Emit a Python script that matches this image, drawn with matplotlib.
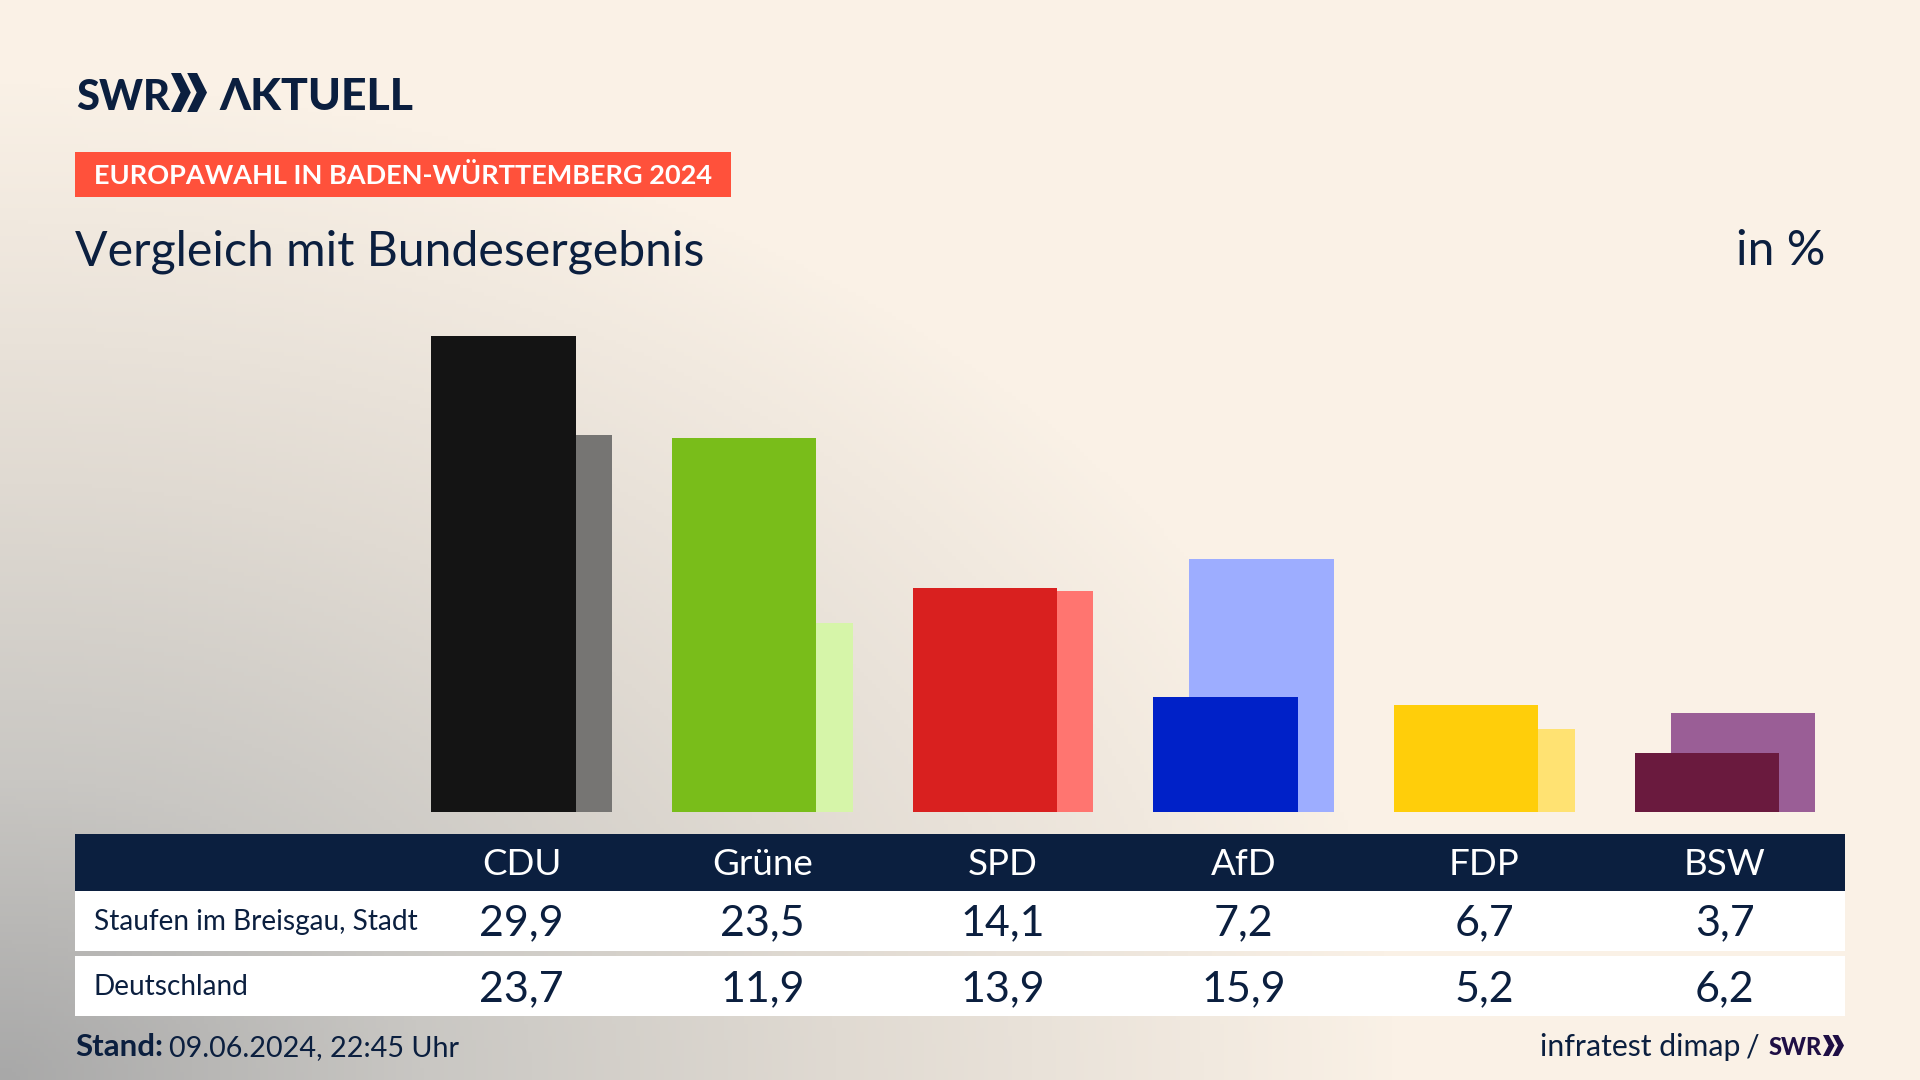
# SWR Europawahl: Vergleich Staufen / Bund
import matplotlib
matplotlib.use("Agg")
import matplotlib.pyplot as plt
from matplotlib.colors import LinearSegmentedColormap
from matplotlib.patches import Polygon, Rectangle
import numpy as np

parteien = ["CDU", "Grüne", "SPD", "AfD", "FDP", "BSW"]
staufen = [29.9, 23.5, 14.1, 7.2, 6.7, 3.7]
deutschland = [23.7, 11.9, 13.9, 15.9, 5.2, 6.2]
farben_vorn = ["#141414", "#79BD1A", "#D9201F", "#0021C8", "#FFCE0A", "#6A1A3E"]
farben_hinten = ["#767573", "#D6F5A9", "#FF7570", "#9DADFF", "#FFE272", "#9A5E96"]

NAVY = "#0B1F3F"
W, H = 1920, 1080
plt.rcParams["font.family"] = ["Lato", "DejaVu Sans"]

fig = plt.figure(figsize=(W / 100, H / 100), dpi=100)

# Hintergrund + alles Nicht-Daten in Pixelkoordinaten
bg = fig.add_axes([0, 0, 1, 1])
bg.set_xlim(0, W)
bg.set_ylim(H, 0)
bg.axis("off")
yy, xx = np.mgrid[0:H:270j, 0:W:480j]
d = np.hypot(xx / 1400, (H - yy) / 1000)
cmap = LinearSegmentedColormap.from_list(
    "bg", [(0, "#A8A8A8"), (0.3, "#C9C7C3"), (0.6, "#E0DAD2"), (1, "#FAF1E6")])
bg.imshow(np.clip(d, 0, 1), cmap=cmap, vmin=0, vmax=1, extent=(0, W, H, 0), aspect="auto")


def chevrons(ax, x, y, w, h, color):
    # zwei Pfeilspitzen des SWR-Logos
    cw = w * 0.55
    for x0 in (x, x + w - cw):
        pts = [(x0, y), (x0 + cw * 0.5, y), (x0 + cw, y + h / 2),
               (x0 + cw * 0.5, y + h), (x0, y + h), (x0 + cw * 0.48, y + h / 2)]
        ax.add_patch(Polygon(pts, closed=True, color=color, lw=0))


# Logo
bg.text(76, 110, "SWR", fontsize=30, fontweight=900, color=NAVY, va="baseline")
chevrons(bg, 171, 73, 36, 39, NAVY)
bg.text(219, 110, "ΛKTUELL", fontsize=32, fontweight=900, color=NAVY, va="baseline")

# Banner und Titel
bg.add_patch(Rectangle((75, 152), 656, 45, color="#FF513B", lw=0))
bg.text(94, 184, "EUROPAWAHL IN BADEN-WÜRTTEMBERG 2024", fontsize=19.5, fontweight="bold",
        color="white", va="baseline")
bg.text(75, 265, "Vergleich mit Bundesergebnis", fontsize=34.7, color=NAVY, va="baseline")
bg.text(1825, 265, "in %", fontsize=34.7, color=NAVY, va="baseline", ha="right")

# Tabelle
bg.add_patch(Rectangle((75, 834), 1770, 57, color=NAVY, lw=0))
bg.add_patch(Rectangle((75, 891), 1770, 60, color="white", lw=0))
bg.add_patch(Rectangle((75, 956), 1770, 60, color="white", lw=0))
bg.text(94, 930, "Staufen im Breisgau, Stadt", fontsize=20.2, color=NAVY, va="baseline")
bg.text(94, 995, "Deutschland", fontsize=20.2, color=NAVY, va="baseline")

# Fusszeile
bg.text(75, 1056, "Stand:", fontsize=22.5, fontweight="bold", color=NAVY, va="baseline")
bg.text(169, 1056, "09.06.2024, 22:45 Uhr", fontsize=20.7, color=NAVY, va="baseline")
bg.text(1740, 1056, "infratest dimap", fontsize=21.8, color=NAVY, va="baseline", ha="right")
bg.text(1760, 1056, "/", fontsize=21.8, color=NAVY, va="baseline", ha="right")
bg.text(1769, 1055, "SWR", fontsize=17, fontweight=900, color="#1F0F45", va="baseline")
chevrons(bg, 1823, 1035, 21, 21, "#1F0F45")

# Balken
ax = fig.add_axes([401.25 / W, (H - 812) / H, 1444 / W, 512 / H])
ax.patch.set_alpha(0)
x = np.arange(len(parteien))
ax.bar(x + 0.075, deutschland, width=0.6, color=farben_hinten, lw=0)
ax.bar(x - 0.075, staufen, width=0.6, color=farben_vorn, lw=0)
ax.set_xlim(-0.5, 5.5)
ax.set_ylim(0, 512 / 15.92)
ax.axis("off")

# Tabellenwerte an den Balkenpositionen
tab = fig.add_axes([401.25 / W, (H - 1016) / H, 1444 / W, 182 / H])
tab.patch.set_alpha(0)
tab.set_xlim(-0.5, 5.5)
tab.set_ylim(182, 0)
tab.axis("off")
for i, p in enumerate(parteien):
    tab.text(i, 875 - 834, p, fontsize=26.5, color="white", ha="center", va="baseline")
    tab.text(i, 935 - 834, f"{staufen[i]:.1f}".replace(".", ","), fontsize=31, color=NAVY,
             ha="center", va="baseline")
    tab.text(i, 1001 - 834, f"{deutschland[i]:.1f}".replace(".", ","), fontsize=31, color=NAVY,
             ha="center", va="baseline")

fig.savefig("out.png", dpi=100)
